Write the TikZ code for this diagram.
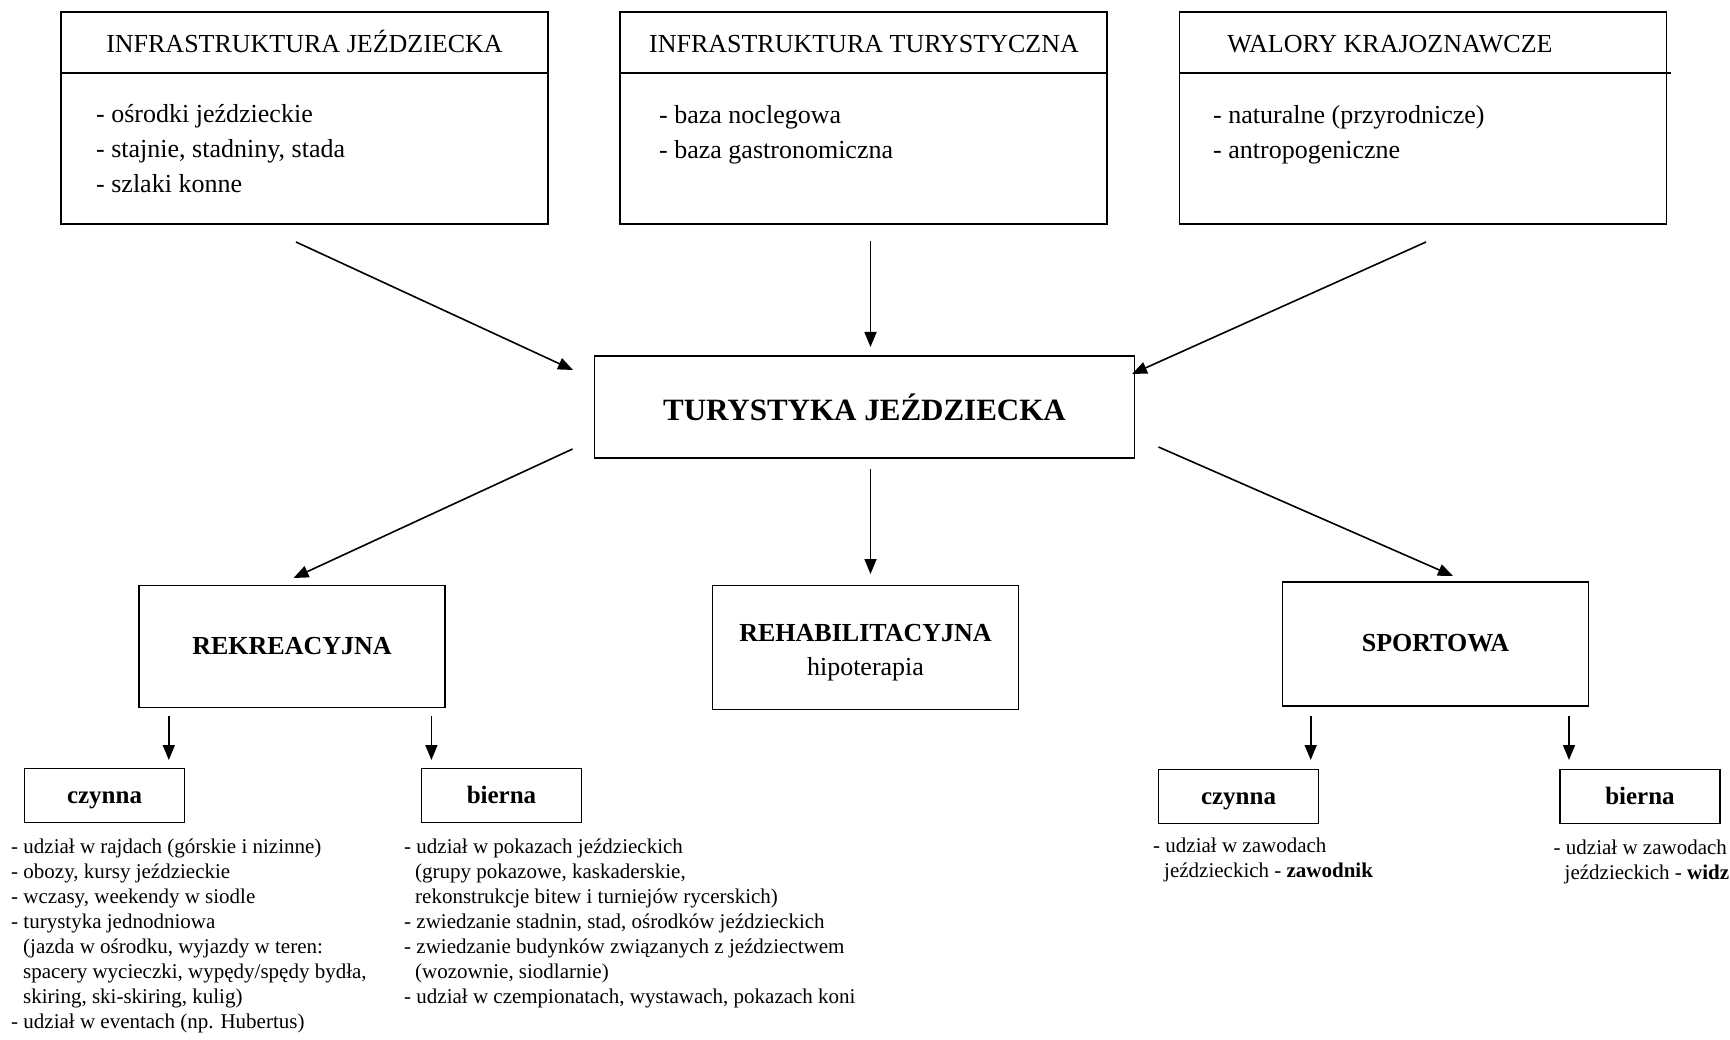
\documentclass[tikz,border=0pt]{standalone}
\usepackage{fontspec}
\setmainfont{Liberation Serif}
\usetikzlibrary{arrows.meta}
\begin{document}
\begin{tikzpicture}[x=1pt,y=-1pt,
  frame/.style={draw, line width=1.8pt, inner sep=0pt},
  bigbox/.style={frame, minimum width=487pt, minimum height=212pt},
  midbox/.style={frame, minimum width=306pt, minimum height=122pt, align=center,
                 font=\fontsize{26}{34}\selectfont\bfseries},
  smallbox/.style={frame, minimum width=160pt, minimum height=54pt,
                   text height=16pt, text depth=1pt,
                   font=\fontsize{25}{30}\selectfont\bfseries},
  head/.style={inner sep=0pt, anchor=base, font=\fontsize{26}{30}\selectfont},
  body/.style={inner sep=0pt, anchor=north west, align=left,
               font=\fontsize{26}{35}\selectfont},
  list/.style={inner sep=0pt, anchor=north west, align=left,
               font=\fontsize{21}{25}\selectfont},
  arr/.style={line width=1.6pt, -{Triangle[length=15pt,width=12pt]}},
  divider/.style={line width=1.8pt}]
\useasboundingbox (0,0) rectangle (1730,1040);
\fill[white] (0,0) rectangle (1730,1040);

% --- top row: the three groups of resources ---
\node[bigbox] (infj) at (304.5,118) {};
\node[bigbox] (inft) at (863.5,118) {};
\node[bigbox] (walo) at (1423,118) {};

\path (infj.north west) ++(0,62) coordinate (d1a);
\path (infj.north east) ++(0,62) coordinate (d1b);
\path (inft.north west) ++(0,62) coordinate (d2a);
\path (inft.north east) ++(0,62) coordinate (d2b);
\path (walo.north west) ++(0,62) coordinate (d3a);
\path (walo.north east) ++(4,62) coordinate (d3b);
\draw[divider] (d1a) -- (d1b);
\draw[divider] (d2a) -- (d2b);
\draw[divider] (d3a) -- (d3b);

\node[head] (infjt) at (304.5,53) {INFRASTRUKTURA JEŹDZIECKA};
\node[head] (inftt) at (864,53) {INFRASTRUKTURA TURYSTYCZNA};
\node[head] (walot) at (1390,53) {WALORY KRAJOZNAWCZE};

\node[body] (infjb) at (96,104) {- ośrodki jeździeckie\\- stajnie, stadniny, stada\\- szlaki konne};
\node[body] (inftb) at (659,105) {- baza noclegowa\\- baza gastronomiczna};
\node[body] (walob) at (1213,105) {- naturalne (przyrodnicze)\\- antropogeniczne};

% --- centre ---
\node[frame, minimum width=540pt, minimum height=102pt,
      font=\fontsize{31}{36}\selectfont\bfseries] (tj) at (864.5,407) {TURYSTYKA JEŹDZIECKA};

\coordinate (a1s) at (296,242);  \coordinate (a1e) at (573,370);
\coordinate (a2s) at (870.5,241); \coordinate (a2e) at (870.5,347);
\coordinate (a3s) at (1426,242); \coordinate (a3e) at (1132,374);
\draw[arr] (a1s) -- (a1e);
\draw[arr] (a2s) -- (a2e);
\draw[arr] (a3s) -- (a3e);

% --- three forms ---
\node[midbox] (rek) at (292,646.5) {\raisebox{-3pt}{REKREACYJNA}};
\node[frame, minimum width=306pt, minimum height=124pt] (reh) at (865.5,647.5) {};
\node[inner sep=0pt, align=center, font=\fontsize{26}{34}\selectfont] (reht) at (865.5,653)
  {\textbf{REHABILITACYJNA}\\hipoterapia};
\node[midbox, minimum height=124pt] (spo) at (1435.5,644) {\raisebox{2pt}{SPORTOWA}};

\coordinate (b1s) at (572.6,449);  \coordinate (b1e) at (293.5,578);
\coordinate (b2s) at (870.5,469);  \coordinate (b2e) at (870.5,574);
\coordinate (b3s) at (1158.5,447); \coordinate (b3e) at (1453,576);
\draw[arr] (b1s) -- (b1e);
\draw[arr] (b2s) -- (b2e);
\draw[arr] (b3s) -- (b3e);

% --- active / passive ---
\node[smallbox] (rc) at (104.5,795.5) {czynna};
\node[smallbox] (rb) at (501.5,795.5) {bierna};
\node[smallbox] (sc) at (1238.5,796.5) {czynna};
\node[smallbox] (sb) at (1640,796.5) {bierna};

\coordinate (c1s) at (168.8,716); \coordinate (c1e) at (168.8,760);
\coordinate (c2s) at (431.4,716); \coordinate (c2e) at (431.4,760);
\coordinate (c3s) at (1310.7,716); \coordinate (c3e) at (1310.7,760);
\coordinate (c4s) at (1569,716); \coordinate (c4e) at (1569,760);
\draw[arr] (c1s) -- (c1e);
\draw[arr] (c2s) -- (c2e);
\draw[arr] (c3s) -- (c3e);
\draw[arr] (c4s) -- (c4e);

\node[list] (rcl) at (11,839) {- udział w rajdach (górskie i nizinne)\\
- obozy, kursy jeździeckie\\
- wczasy, weekendy w siodle\\
- turystyka jednodniowa\\
\hspace*{12pt}(jazda w ośrodku, wyjazdy w teren:\\
\hspace*{12pt}spacery wycieczki, wypędy/spędy bydła,\\
\hspace*{12pt}skiring, ski-skiring, kulig)\\
- udział w eventach (np. Hubertus)};

\node[list] (rbl) at (404,839) {- udział w pokazach jeździeckich\\
\hspace*{11pt}(grupy pokazowe, kaskaderskie,\\
\hspace*{11pt}rekonstrukcje bitew i turniejów rycerskich)\\
- zwiedzanie stadnin, stad, ośrodków jeździeckich\\
- zwiedzanie budynków związanych z jeździectwem\\
\hspace*{11pt}(wozownie, siodlarnie)\\
- udział w czempionatach, wystawach, pokazach koni};

\node[list] (scl) at (1153,838) {- udział w zawodach\\
\hspace*{11pt}jeździeckich - \textbf{zawodnik}};
\node[list] (sbl) at (1553.5,840) {- udział w zawodach\\
\hspace*{11pt}jeździeckich - \textbf{widz}};
\end{tikzpicture}
\end{document}
